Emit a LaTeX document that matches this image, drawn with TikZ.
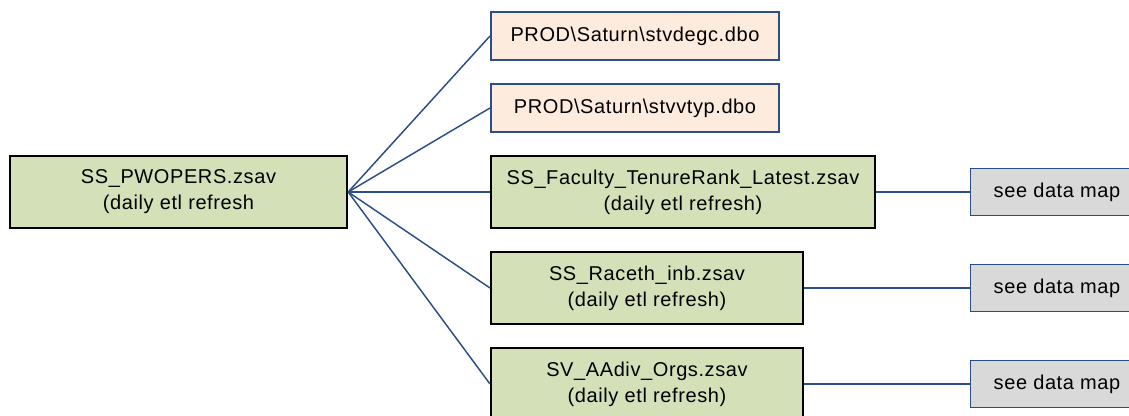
\documentclass[tikz,border=0pt]{standalone}
\usepackage{fontspec}
\setmainfont[LetterSpace=3]{Liberation Sans}
\definecolor{linkblue}{HTML}{2A4E85}
\definecolor{etlgreen}{HTML}{D3E0B8}
\definecolor{dbopeach}{HTML}{FDEBDD}
\definecolor{mapgray}{HTML}{D9D9D9}
\tikzset{
  every node/.style={font=\fontsize{15}{19.5}\selectfont, align=center, inner sep=0pt},
  etlbox/.style={draw=black, line width=1.5pt, fill=etlgreen, minimum height=54pt},
  dbobox/.style={draw=linkblue, line width=1.5pt, fill=dbopeach, minimum width=216pt, minimum height=36pt},
  mapbox/.style={draw=linkblue, line width=1pt, fill=mapgray, minimum width=130pt, minimum height=35pt},
  link/.style={draw=linkblue, line width=1.1pt}
}
\begin{document}
\begin{tikzpicture}[x=0.75pt, y=-0.75pt]
    \useasboundingbox (0,0) rectangle (1129,416);

    \node[etlbox, minimum width=253pt] (src) at (178.5, 192) {SS\_PWOPERS.zsav\\(daily etl refresh};

    \node[dbobox] (dbo1) at (635, 36) {PROD\textbackslash Saturn\textbackslash stvdegc.dbo};
    \node[dbobox] (dbo2) at (635, 108) {PROD\textbackslash Saturn\textbackslash stvvtyp.dbo};

    \node[etlbox, minimum width=288pt] (fac) at (683, 192) {SS\_Faculty\_TenureRank\_Latest.zsav\\(daily etl refresh)};
    \node[etlbox, minimum width=234pt] (race) at (647, 288) {SS\_Raceth\_inb.zsav\\(daily etl refresh)};
    \node[etlbox, minimum width=234pt] (orgs) at (647, 384) {SV\_AAdiv\_Orgs.zsav\\(daily etl refresh)};

    \node[mapbox] (map1) at (1057, 192) {see data map};
    \node[mapbox] (map2) at (1057, 288) {see data map};
    \node[mapbox] (map3) at (1057, 384) {see data map};

    \draw[link] (src.east) -- (dbo1.west);
    \draw[link] (src.east) -- (dbo2.west);
    \draw[link] (src.east) -- (fac.west);
    \draw[link] (src.east) -- (race.west);
    \draw[link] (src.east) -- (orgs.west);

    \draw[link] (fac.east) -- (map1.west);
    \draw[link] (race.east) -- (map2.west);
    \draw[link] (orgs.east) -- (map3.west);
\end{tikzpicture}
\end{document}
